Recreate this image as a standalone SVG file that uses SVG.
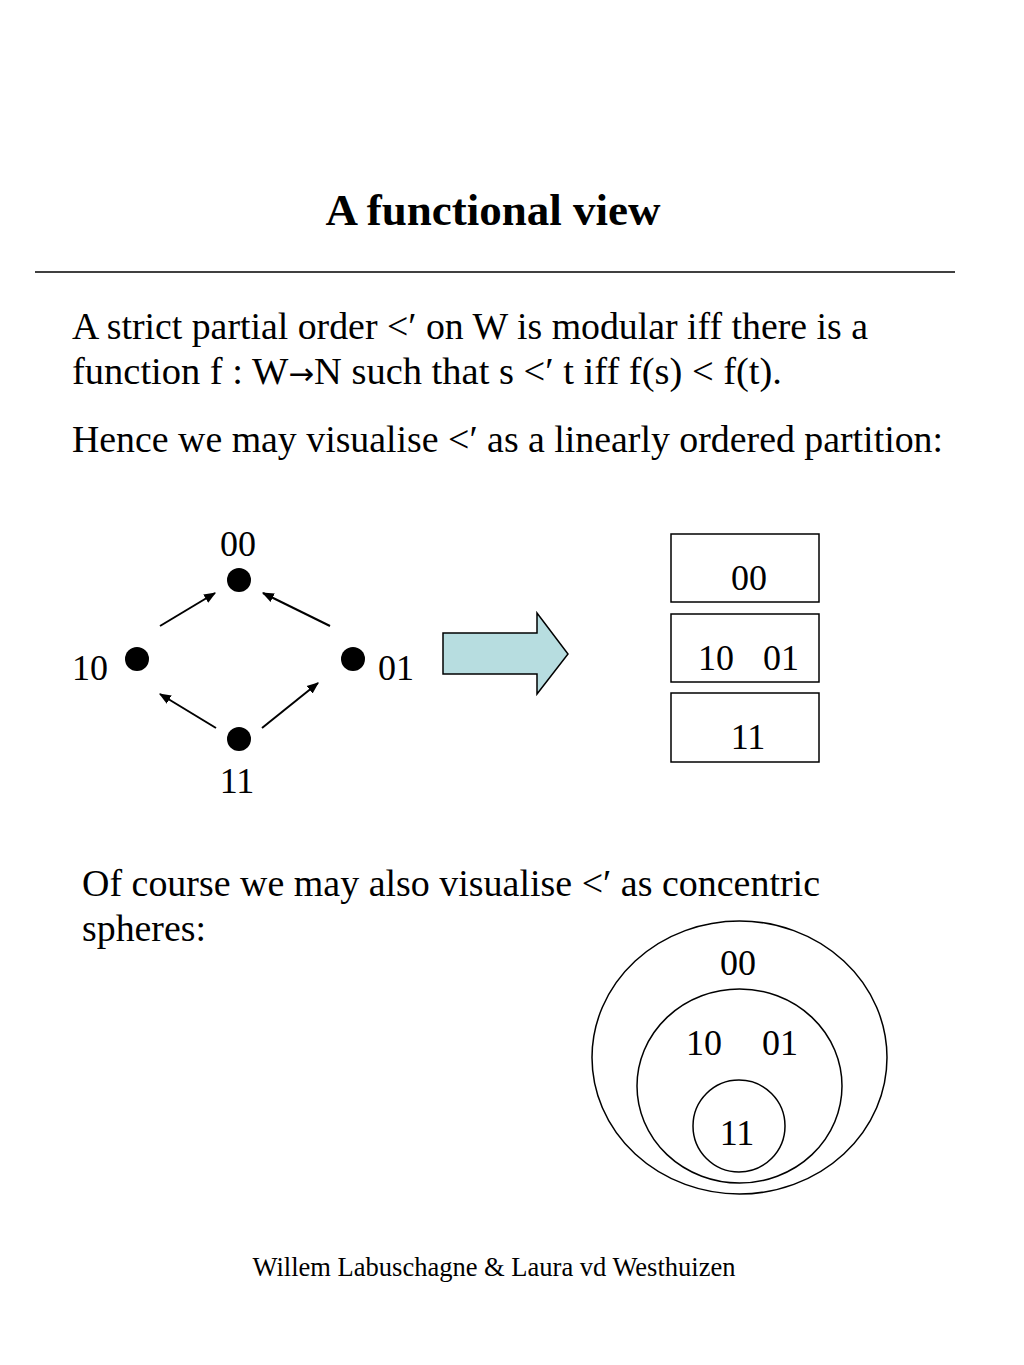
<svg xmlns="http://www.w3.org/2000/svg" width="1024" height="1365" viewBox="0 0 1024 1365">
<defs>
<style>
text{font-family:"Liberation Serif","Times New Roman",serif;fill:#000}
.t{font-size:45px;font-weight:bold;text-anchor:middle}
.b{font-size:37.5px}
.l{font-size:36px}
.c{text-anchor:middle}
.f{font-size:26.5px;text-anchor:middle}
.sym{font-family:"DejaVu Sans",sans-serif;font-size:30px}
.dot{fill:#000}
.edge{stroke:#000;stroke-width:2;fill:none;marker-end:url(#ah)}
.box{fill:#fff;stroke:#000;stroke-width:1.5}
.ring{fill:none;stroke:#000;stroke-width:1.5}
</style>
<marker id="ah" viewBox="0 0 10 10" refX="9" refY="5" markerWidth="6" markerHeight="6" orient="auto" markerUnits="strokeWidth">
<path d="M0,1 L10,5 L0,9 z" fill="#000"/>
</marker>
</defs>
<rect width="1024" height="1365" fill="#fff"/>
<text class="t" x="493" y="225" textLength="335" lengthAdjust="spacingAndGlyphs">A functional view</text>
<line x1="35" y1="272" x2="955" y2="272" stroke="#000" stroke-width="1.5"/>
<text class="b" x="72" y="339" textLength="796" lengthAdjust="spacingAndGlyphs">A strict partial order &lt;′ on W is modular iff there is a</text>
<text class="b" x="72" y="384" textLength="710" lengthAdjust="spacingAndGlyphs">function f : W<tspan class="sym">→</tspan>N such that s &lt;′ t iff f(s) &lt; f(t).</text>
<text class="b" x="72" y="452" textLength="871" lengthAdjust="spacingAndGlyphs">Hence we may visualise &lt;′ as a linearly ordered partition:</text>

<g id="connectors">
<line class="edge" x1="160" y1="626" x2="215" y2="593"/>
<line class="edge" x1="330" y1="626" x2="263" y2="593"/>
<line class="edge" x1="216" y1="728" x2="160" y2="694"/>
<line class="edge" x1="262" y1="728" x2="318" y2="683"/>
</g>
<g id="n00"><circle class="dot" cx="239" cy="580" r="12"/><text class="l c" x="238" y="556">00</text></g>
<g id="n10"><circle class="dot" cx="137" cy="659" r="12"/><text class="l" x="72" y="680">10</text></g>
<g id="n01"><circle class="dot" cx="353" cy="659" r="12"/><text class="l" x="378" y="680">01</text></g>
<g id="n11"><circle class="dot" cx="239" cy="739" r="12"/><text class="l c" x="237" y="793">11</text></g>

<g id="bigarrow"><path d="M443,633 L537,633 L537,613 L568,654 L537,694 L537,674 L443,674 Z" fill="#b7dde0" stroke="#000" stroke-width="1.5"/></g>

<g id="box00"><rect class="box" x="671" y="534" width="148" height="68"/><text class="l c" x="749" y="590">00</text></g>
<g id="box1001"><rect class="box" x="671" y="614" width="148" height="68"/><text class="l" x="698" y="670">10</text><text class="l" x="763" y="670">01</text></g>
<g id="box11"><rect class="box" x="671" y="693" width="148" height="69"/><text class="l c" x="748" y="749">11</text></g>

<text class="b" x="82" y="896" textLength="738" lengthAdjust="spacingAndGlyphs">Of course we may also visualise &lt;′ as concentric</text>
<text class="b" x="82" y="941" textLength="124" lengthAdjust="spacingAndGlyphs">spheres:</text>

<g id="sphere00"><ellipse class="ring" cx="739.5" cy="1057.5" rx="147.5" ry="136.5"/><text class="l c" x="738" y="975">00</text></g>
<g id="sphere1001"><ellipse class="ring" cx="739.5" cy="1086" rx="102.5" ry="97"/><text class="l" x="686" y="1055">10</text><text class="l" x="762" y="1055">01</text></g>
<g id="sphere11"><circle class="ring" cx="739" cy="1126" r="46"/><text class="l c" x="737" y="1145">11</text></g>

<text class="f" x="494" y="1276" textLength="483" lengthAdjust="spacingAndGlyphs">Willem Labuschagne &amp; Laura vd Westhuizen</text>
</svg>
